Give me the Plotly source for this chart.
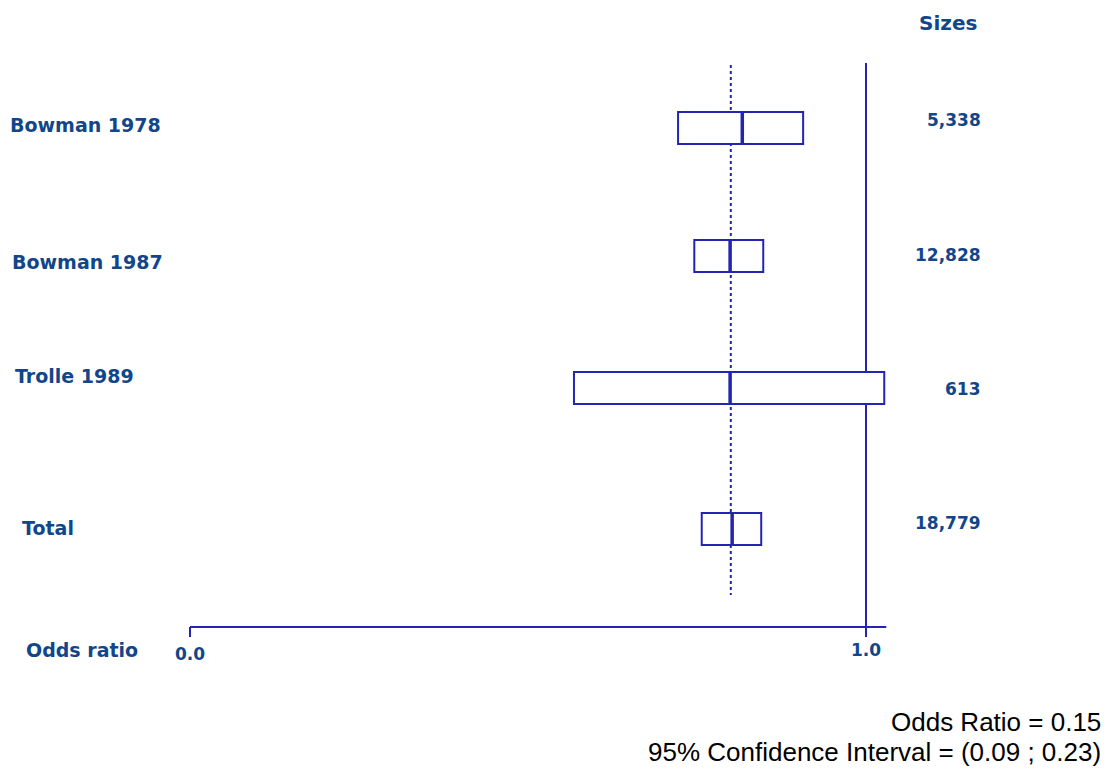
import plotly.graph_objects as go

# ---- data ----
studies = ["Bowman 1978", "Bowman 1987", "Trolle 1989", "Total"]
odds_center = [0.817, 0.799, 0.799, 0.802]
ci_low = [0.722, 0.746, 0.568, 0.757]
ci_high = [0.907, 0.848, 1.027, 0.845]
sizes = ["5,338", "12,828", "613", "18,779"]
pooled_ref = 0.80
null_value = 1.0
tick_vals = [0.0, 1.0]
tick_text = ["0.0", "1.0"]
summary_lines = ["Odds Ratio = 0.15", "95% Confidence Interval = (0.09 ; 0.23)"]

# ---- layout positions (pixel-like y coordinates) ----
row_y = [128, 256, 388, 529]
label_y = [125, 262, 376, 528]
label_x = [8, 10, 13, 20]
size_y = [120, 255, 389, 523]
box_half = 16
axis_y = 627
W, H = 1106, 769
x0_px, x1_px = 190, 866
scale = x1_px - x0_px
xr = [-x0_px / scale, (W - x0_px) / scale]

LINE = "#2424b2"
TEXT = "#11468a"
FONT = "Verdana, DejaVu Sans, sans-serif"

def px_to_x(p):
    return xr[0] + p / W * (xr[1] - xr[0])

fig = go.Figure()
fig.add_trace(go.Scatter(x=[xr[0]], y=[0], mode="markers", marker=dict(opacity=0), showlegend=False, hoverinfo="skip"))

shapes = []
shapes.append(dict(type="line", x0=null_value, x1=null_value, y0=63, y1=axis_y, line=dict(color=LINE, width=2)))
shapes.append(dict(type="line", x0=0.0, x1=1.03, y0=axis_y, y1=axis_y, line=dict(color=LINE, width=2)))
for tv in tick_vals:
    shapes.append(dict(type="line", x0=tv, x1=tv, y0=axis_y, y1=axis_y + 10, line=dict(color=LINE, width=2)))
shapes.append(dict(type="line", x0=pooled_ref, x1=pooled_ref, y0=65, y1=595, line=dict(color=LINE, width=2, dash="dot")))
for yc, lo, hi, c in zip(row_y, ci_low, ci_high, odds_center):
    shapes.append(dict(type="rect", x0=lo, x1=hi, y0=yc - box_half, y1=yc + box_half,
                       line=dict(color=LINE, width=2), fillcolor="white"))
    shapes.append(dict(type="line", x0=c, x1=c, y0=yc - box_half, y1=yc + box_half, line=dict(color=LINE, width=3.5)))

ann = []
lab = dict(family=FONT, size=19, color=TEXT, weight="bold")
num = dict(family=FONT, size=17, color=TEXT, weight="bold")
for name, lx, ly in zip(studies, label_x, label_y):
    ann.append(dict(x=px_to_x(lx), y=ly, text=name, xanchor="left", yanchor="middle", showarrow=False, font=lab))
ann.append(dict(x=px_to_x(24), y=650, text="Odds ratio", xanchor="left", yanchor="middle", showarrow=False, font=lab))
for tv, tt in zip(tick_vals, tick_text):
    ann.append(dict(x=tv, y=654 if tv == 0 else 650, text=tt, xanchor="center", yanchor="middle", showarrow=False, font=num))
ann.append(dict(x=px_to_x(948), y=23, text="Sizes", xanchor="center", yanchor="middle", showarrow=False,
                font=dict(family=FONT, size=20, color=TEXT, weight="bold")))
for s, sy in zip(sizes, size_y):
    ann.append(dict(x=px_to_x(983), y=sy, text=s, xanchor="right", yanchor="middle", showarrow=False, font=num))
reg = dict(family="Arial, Liberation Sans, sans-serif", size=26, color="black")
ann.append(dict(x=px_to_x(1103), y=722, text=summary_lines[0], xanchor="right", yanchor="middle", showarrow=False, font=reg))
ann.append(dict(x=px_to_x(1103), y=752, text=summary_lines[1], xanchor="right", yanchor="middle", showarrow=False, font=reg))

fig.update_layout(
    width=W, height=H, margin=dict(l=0, r=0, t=0, b=0),
    paper_bgcolor="white", plot_bgcolor="white",
    xaxis=dict(range=xr, visible=False, fixedrange=True),
    yaxis=dict(range=[H, 0], visible=False, fixedrange=True),
    shapes=shapes, annotations=ann, showlegend=False,
)
fig.write_html("out.html", config={"displayModeBar": False},
               post_script="document.body.style.margin='0';document.body.style.overflow='hidden';")
